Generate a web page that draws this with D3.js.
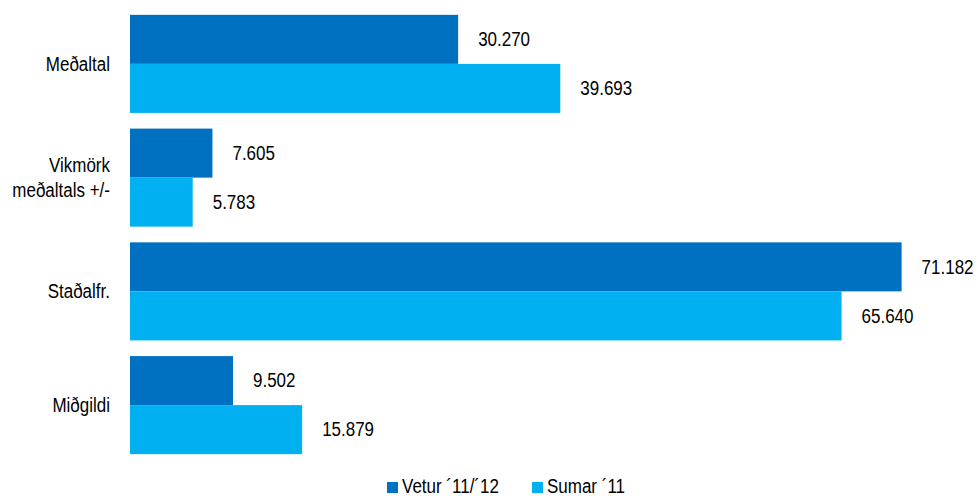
<!DOCTYPE html>
<html>
<head>
<meta charset="utf-8">
<script src="https://cdn.jsdelivr.net/npm/d3@7"></script>
<style>
  html, body { margin: 0; padding: 0; background: #fff; }
  svg { display: block; font-family: "Liberation Sans", Arial, sans-serif; }
</style>
</head>
<body>
<svg id="chart" width="977" height="497"></svg>
<script>
// Categories (row labels; "\n" splits a label into lines)
const categories = ["Meðaltal", "Vikmörk\nmeðaltals +/-", "Staðalfr.", "Miðgildi"];
// Series names and values
const seriesNames = ["Vetur ´11/´12", "Sumar ´11"];
const veturValues = [30270, 7605, 71182, 9502];
const sumarValues = [39693, 5783, 65640, 15879];
const seriesColors = ["#0070C0", "#00B0F0"];

const series = [veturValues, sumarValues];
const rows = categories.map((c, i) => ({ cat: c, values: series.map(s => s[i]) }));

const svg = d3.select("#chart");
const margin = { left: 130, top: 7, bottom: 35 };
const fontSize = 17;
const stretch = 1.15; // taller, narrower type

const x = d3.scaleLinear().domain([0, 80000]).range([margin.left, margin.left + 80 * 10.84]);
const y = d3.scaleBand().domain(categories).range([margin.top, 497 - margin.bottom])
  .paddingInner(0.138).paddingOuter(0.069);
const ySub = d3.scaleBand().domain(d3.range(series.length)).range([0, y.bandwidth()]);

const isLocale = d3.formatLocale({ decimal: ",", thousands: ".", grouping: [3], currency: ["", " kr."] });
const fmt = isLocale.format(",d");

const groups = svg.selectAll("g.row").data(rows).join("g")
  .attr("class", "row")
  .attr("transform", d => `translate(0,${y(d.cat)})`);

groups.selectAll("rect").data(d => d.values).join("rect")
  .attr("x", x(0))
  .attr("y", (v, i) => ySub(i))
  .attr("width", v => x(v) - x(0))
  .attr("height", ySub.bandwidth())
  .attr("fill", (v, i) => seriesColors[i]);

groups.selectAll("text.val").data(d => d.values).join("text")
  .attr("class", "val")
  .attr("transform", (v, i) => `translate(${x(v) + 20},${ySub(i) + ySub.bandwidth() / 2}) scale(1,${stretch})`)
  .attr("dy", "0.35em")
  .attr("font-size", fontSize)
  .attr("fill", "#000")
  .text(v => fmt(v));

// Category labels, right-aligned left of the bars
const lh = 25; // line spacing in px
svg.append("g").selectAll("g.cat").data(categories).join("g")
  .attr("class", "cat")
  .each(function (d) {
    const lines = d.split("\n");
    const cy = y(d) + y.bandwidth() / 2;
    d3.select(this).selectAll("text").data(lines).join("text")
      .attr("transform", (ln, k) => `translate(${margin.left - 20},${cy + (k - (lines.length - 1) / 2) * lh}) scale(1,${stretch})`)
      .attr("dy", "0.35em")
      .attr("text-anchor", "end")
      .attr("font-size", fontSize)
      .attr("fill", "#000")
      .text(ln => ln);
  });

// Legend
const legend = svg.append("g").attr("transform", "translate(387,486)");
const legendX = [0, 145];
seriesNames.forEach((name, i) => {
  const g = legend.append("g").attr("transform", `translate(${legendX[i]},0)`);
  g.append("rect").attr("x", 0).attr("y", -4).attr("width", 11).attr("height", 11).attr("fill", seriesColors[i]);
  g.append("text").attr("transform", `translate(15,0) scale(1,${stretch})`).attr("dy", "0.35em")
    .attr("font-size", fontSize).attr("fill", "#000").text(name);
});
</script>
</body>
</html>
